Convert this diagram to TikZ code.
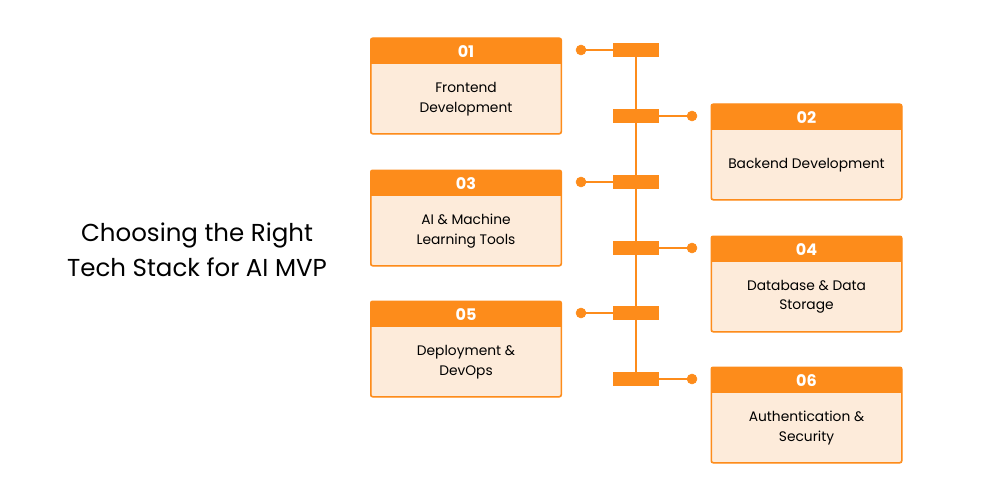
\documentclass[tikz,border=0pt]{standalone}
\usepackage{fontspec}
\setmainfont{Poppins}
\definecolor{org}{HTML}{FD8C1B}
\definecolor{lt}{HTML}{FDEBDA}
\begin{document}
\begin{tikzpicture}[x=1pt,y=-1pt,
  card/.style={draw=org,line width=1pt,fill=lt,rounded corners=2pt,minimum width=190pt,minimum height=95pt,inner sep=0pt},
  head/.style={fill=org,minimum width=191pt,minimum height=26pt,inner sep=0pt,text=white,font=\fontsize{16}{18}\selectfont\bfseries},
  body/.style={align=center,font=\fontsize{13.8}{19.5}\selectfont,text=black},
  bar/.style={fill=org,minimum width=46pt,minimum height=14pt,inner sep=0pt},
  dot/.style={circle,fill=org,draw=org,line width=0.5pt,minimum size=10pt,inner sep=0pt},
  link/.style={draw=org,line width=2pt}]
\useasboundingbox (0,0) rectangle (1000,500);
% spine
\coordinate (top) at (636,50);
\coordinate (bot) at (636,379);
\draw[link] (top) -- (bot);
% title
\node[align=center,font=\fontsize{24.5}{35}\selectfont] (title) at (197,250) {Choosing the Right\\Tech Stack for AI MVP};
% cards
\foreach \n/\x/\y/\t in {01/466/38/{Frontend\\Development},
  03/466/170/{AI \& Machine\\Learning Tools},
  05/466/301/{Deployment \&\\DevOps},
  02/806.5/104/{Backend Development},
  04/806.5/236/{Database \& Data\\Storage},
  06/806.5/367/{Authentication \&\\Security}}{
  \node[card,anchor=north] (c\n) at (\x,\y) {};
  \begin{scope}
  \clip[rounded corners=2pt] (c\n.south west) rectangle (c\n.north east);
  \node[head,anchor=north] (h\n) at (c\n.north) {\n};
  \end{scope}
  \draw[draw=org,line width=1pt,rounded corners=2pt] (c\n.south west) rectangle (c\n.north east);
  \node[body] (t\n) at ([yshift=-13pt]c\n.center) {\t};
}
% bars and dots
\foreach \n/\y/\d in {01/50/581,03/182/581,05/313/581,02/116/692,04/248/692,06/379/692}{
  \node[bar] (b\n) at (636,\y) {};
  \node[dot] (d\n) at (\d,\y) {};
  \draw[link] (d\n.center) -- (b\n);
}
\end{tikzpicture}
\end{document}
